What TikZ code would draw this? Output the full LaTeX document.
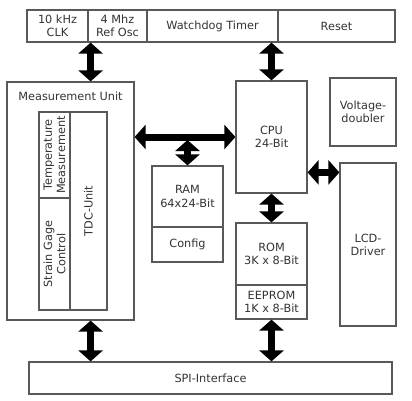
\documentclass[tikz,border=0pt]{standalone}
\usepackage{fontspec}
\setmainfont{DejaVu Sans}
\usepackage{tikz}
\usetikzlibrary{arrows.meta, calc}

\begin{document}
\begin{tikzpicture}[
    x=1pt, y=-1pt,
    font=\fontsize{11.3}{13.2}\selectfont,
    block/.style={draw=black!65, line width=1.2pt, rectangle, align=center, text=black!80, inner sep=2pt},
    plain/.style={align=center, text=black!80, inner sep=1pt},
    bus/.style={line width=7pt, {Triangle[width=24pt,length=11pt]}-{Triangle[width=24pt,length=11pt]}}
]
    \useasboundingbox (0,0) rectangle (412,400);

    % Top row: clocks, watchdog, reset
    \node[block, minimum width=61pt, minimum height=32pt] (clk) at (57.5,26) {10 kHz\\CLK};
    \node[block, minimum width=59pt, minimum height=32pt] (osc) at (117.5,26) {4 Mhz\\Ref Osc};
    \node[block, minimum width=131pt, minimum height=32pt] (wdt) at (212.5,26) {Watchdog Timer};
    \node[block, minimum width=117pt, minimum height=32pt] (reset) at (336.5,26) {Reset};

    % Measurement unit with its inner blocks
    \node[block, minimum width=127pt, minimum height=238pt] (mu) at (70.5,201) {};
    \node[plain] (mutitle) at (70.5,96) {Measurement Unit};
    \node[block, rotate=90, minimum width=86pt, minimum height=31pt] (tmeas) at (54.5,155) {Temperature\\Measurement};
    \node[block, rotate=90, minimum width=112pt, minimum height=31pt] (sgc) at (54.5,254) {Strain Gage\\Control};
    \node[block, rotate=90, minimum width=198pt, minimum height=37pt] (tdc) at (88.5,211) {TDC-Unit};

    % Memory and CPU
    \node[block, minimum width=71pt, minimum height=61pt] (ram) at (187.5,196.5) {RAM\\64x24-Bit};
    \node[block, minimum width=71pt, minimum height=35pt] (config) at (187.5,244.5) {Config};
    \node[block, minimum width=71pt, minimum height=112pt] (cpu) at (271.5,137) {CPU\\24-Bit};
    \node[block, minimum width=71pt, minimum height=62pt] (rom) at (271.5,254) {ROM\\3K x 8-Bit};
    \node[block, minimum width=71pt, minimum height=34pt] (eeprom) at (271.5,302) {EEPROM\\1K x 8-Bit};

    % Right side
    \node[block, minimum width=66pt, minimum height=68pt] (vdbl) at (363,112) {Voltage-\\doubler};
    \node[block, minimum width=56pt, minimum height=163pt] (lcd) at (368,244.5) {LCD-\\Driver};

    % SPI
    \node[block, minimum width=363pt, minimum height=32pt] (spi) at (210.5,378) {SPI-Interface};

    % Bus arrows
    \draw[bus] ([xshift=2pt]clk.south east) -- ([xshift=2pt]clk.south east |- mu.north);
    \draw[bus] (cpu.north) -- (cpu.north |- wdt.south);
    \draw[bus] (mu.east |- cpu.west) -- (cpu.west);
    \coordinate (ramtap) at ([yshift=-3pt]ram.north |- cpu.west);
    \draw[bus] (ramtap) -- (ram.north);
    \draw[bus] (cpu.south) -- (rom.north);
    \draw[bus] ([yshift=-10pt]lcd.north west -| cpu.east) -- ([yshift=-10pt]lcd.north west);
    \draw[bus] ([xshift=2pt]clk.south east |- mu.south) -- ([xshift=2pt]clk.south east |- spi.north);
    \draw[bus] (eeprom.south) -- (eeprom.south |- spi.north);

\end{tikzpicture}
\end{document}
